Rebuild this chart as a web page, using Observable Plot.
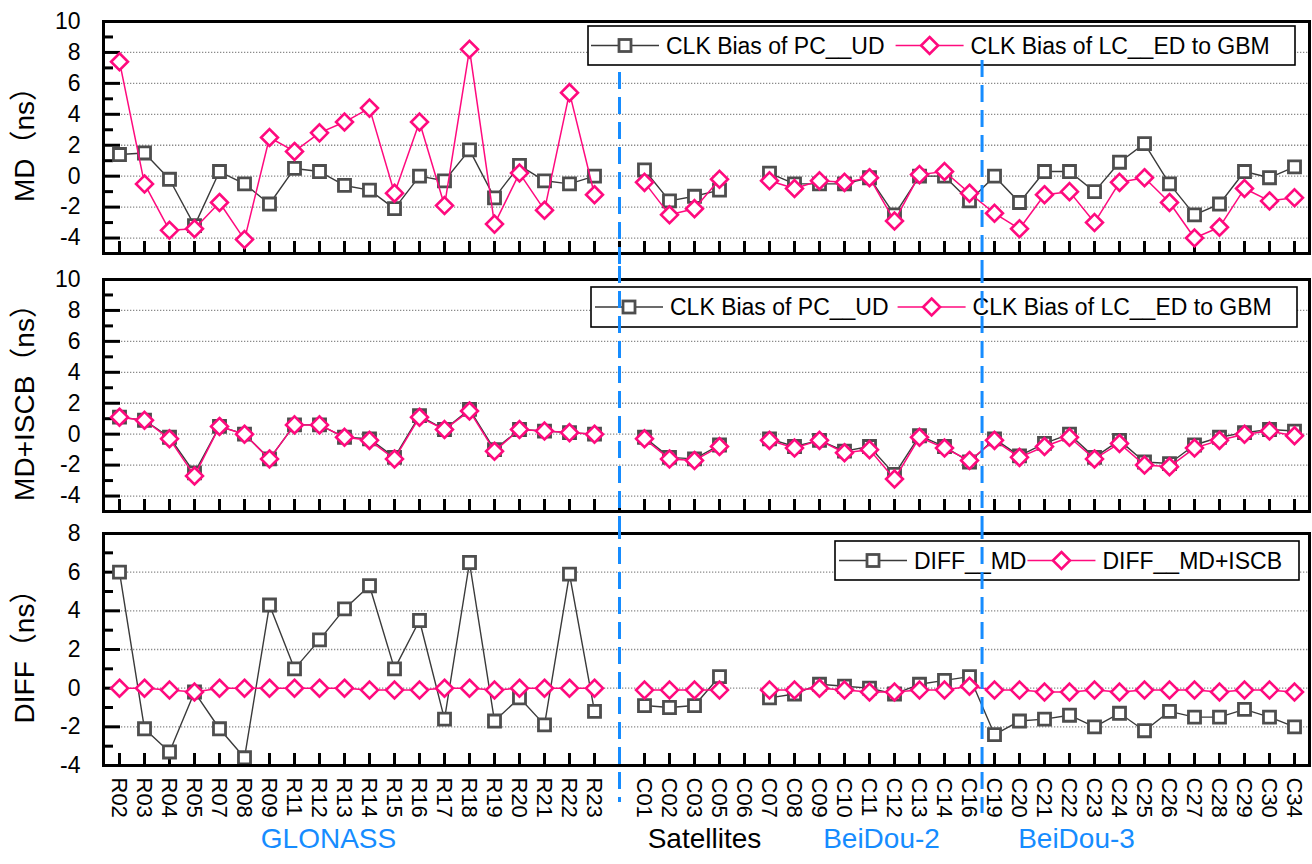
<!DOCTYPE html>
<html>
<head>
<meta charset="utf-8">
<script src="https://cdn.jsdelivr.net/npm/d3@7"></script>
<script src="https://cdn.jsdelivr.net/npm/@observablehq/plot@0.6"></script>
<style>
  html, body { margin: 0; padding: 0; background: #fff; }
  #chart { width: 1312px; }
  #chart svg { display: block; }
</style>
</head>
<body>
<div id="chart"></div>
<script>
// Satellites along the x axis; " " is the empty slot separating GLONASS from BeiDou.
const satellites = ["R02","R03","R04","R05","R07","R08","R09","R11","R12","R13","R14","R15","R16","R17","R18","R19","R20","R21","R22","R23",
  " ",
  "C01","C02","C03","C05","C06","C07","C08","C09","C10","C11","C12","C13","C14","C16",
  "C19","C20","C21","C22","C23","C24","C25","C26","C27","C28","C29","C30","C34"];

// MD (ns)
const mdPC = [1.4, 1.5, -0.2, -3.2, 0.3, -0.5, -1.8, 0.5, 0.3, -0.6, -0.9, -2.1, 0.0, -0.3, 1.7, -1.4, 0.7, -0.3, -0.5, 0.0,
  null,
  0.4, -1.6, -1.3, -0.9, null, 0.2, -0.5, -0.5, -0.5, -0.1, -2.5, 0.0, 0.0, -1.6,
  0.0, -1.7, 0.3, 0.3, -1.0, 0.9, 2.1, -0.5, -2.5, -1.8, 0.3, -0.1, 0.6];
const mdLC = [7.4, -0.5, -3.5, -3.4, -1.7, -4.1, 2.5, 1.6, 2.8, 3.5, 4.4, -1.1, 3.5, -1.9, 8.2, -3.1, 0.2, -2.2, 5.4, -1.2,
  null,
  -0.4, -2.5, -2.1, -0.2, null, -0.3, -0.8, -0.3, -0.4, -0.1, -2.9, 0.1, 0.3, -1.1,
  -2.4, -3.4, -1.2, -1.0, -3.0, -0.4, -0.1, -1.7, -4.0, -3.3, -0.8, -1.6, -1.4];

// MD+ISCB (ns)
const iscbPC = [1.1, 0.9, -0.2, -2.5, 0.5, 0.0, -1.6, 0.6, 0.6, -0.2, -0.3, -1.5, 1.2, 0.3, 1.6, -1.0, 0.3, 0.2, 0.1, 0.0,
  null,
  -0.2, -1.5, -1.6, -0.7, null, -0.3, -0.8, -0.4, -1.1, -0.8, -2.6, -0.1, -0.8, -1.8,
  -0.3, -1.4, -0.6, 0.0, -1.5, -0.4, -1.8, -1.9, -0.7, -0.2, 0.1, 0.3, 0.2];
const iscbLC = [1.1, 0.9, -0.3, -2.7, 0.5, 0.0, -1.6, 0.6, 0.6, -0.2, -0.4, -1.6, 1.1, 0.3, 1.5, -1.1, 0.3, 0.2, 0.1, 0.0,
  null,
  -0.3, -1.6, -1.7, -0.8, null, -0.4, -0.9, -0.4, -1.2, -1.0, -2.9, -0.2, -0.9, -1.7,
  -0.4, -1.5, -0.8, -0.2, -1.6, -0.6, -2.0, -2.1, -0.9, -0.4, 0.0, 0.2, -0.1];

// DIFF (ns)
const diffMD = [6.0, -2.1, -3.3, -0.2, -2.1, -3.6, 4.3, 1.0, 2.5, 4.1, 5.3, 1.0, 3.5, -1.6, 6.5, -1.7, -0.5, -1.9, 5.9, -1.2,
  null,
  -0.9, -1.0, -0.9, 0.6, null, -0.5, -0.3, 0.2, 0.1, 0.0, -0.3, 0.2, 0.4, 0.6,
  -2.4, -1.7, -1.6, -1.4, -2.0, -1.3, -2.2, -1.2, -1.5, -1.5, -1.1, -1.5, -2.0];
const diffISCB = [0.0, 0.0, -0.1, -0.2, 0.0, 0.0, 0.0, 0.0, 0.0, 0.0, -0.1, -0.1, -0.1, 0.0, 0.0, -0.1, 0.0, 0.0, 0.0, 0.0,
  null,
  -0.1, -0.1, -0.1, -0.1, null, -0.1, -0.1, 0.0, -0.1, -0.2, -0.2, -0.1, -0.1, 0.1,
  -0.1, -0.1, -0.2, -0.2, -0.1, -0.2, -0.1, -0.1, -0.1, -0.2, -0.1, -0.1, -0.2];

const legendMD = ["CLK Bias of PC__UD", "CLK Bias of LC__ED to GBM"];
const legendDiff = ["DIFF__MD", "DIFF__MD+ISCB"];

const W = 1312;
const ML = 103, MR = 3;
const X_RANGE = [116.7, 1297];
const STEP = (X_RANGE[1] - X_RANGE[0]) / (satellites.length - 1);
const FONT = '"Liberation Sans", Arial, "Noto Sans CJK SC", sans-serif';
const GRAY_LINE = "#3a3a3a", GRAY_MARK = "#4e4e4e", PINK = "#ff0a7e", BLUE = "#168cff";

const series = values => satellites.map((sat, i) => ({sat, v: values[i]}));
const range = (a, b, s) => d3.range(a, b + 1e-9, s);

function panel(cfg) {
  const {height, marginTop, marginBottom, domain, title, gray, pink, bottom, div1, div2} = cfg;
  const frameW = W - ML - MR;
  const frameH = height - marginTop - marginBottom;
  const majors = range(domain[0] % 2 === 0 ? domain[0] : domain[0] + 1, domain[1], 2);
  const minors = range(majors[0] - 1, domain[1], 2).filter(v => v > domain[0] && v < domain[1]);
  const grid = majors.filter(v => v > domain[0] && v < domain[1]);

  const marks = [
    Plot.ruleY(grid, {y: d => d, stroke: "#8a8a8a", strokeWidth: 1.3, strokeDasharray: "1.3,1.7"}),
    Plot.tickY(majors, {y: d => d, stroke: "#000", strokeWidth: 3, insetRight: frameW - 17}),
    Plot.tickY(minors, {y: d => d, stroke: "#000", strokeWidth: 3, insetRight: frameW - 10}),
    Plot.tickX(satellites, {x: d => d, stroke: "#000", strokeWidth: 3, insetTop: frameH - 12}),
    Plot.text(majors, {y: d => d, text: d => String(d), frameAnchor: "left", dx: -23, textAnchor: "end", fontSize: 23}),
    Plot.text([title], {text: d => d, frameAnchor: "left", dx: -78, rotate: -90, textAnchor: "middle", lineAnchor: "middle", fontSize: 28}),
    Plot.line(series(gray), {x: "sat", y: "v", stroke: GRAY_LINE, strokeWidth: 1.4}),
    Plot.dot(series(gray), {x: "sat", y: "v", symbol: "square", r: 6.8, stroke: GRAY_MARK, strokeWidth: 2.8, fill: "white"}),
    Plot.line(series(pink), {x: "sat", y: "v", stroke: PINK, strokeWidth: 1.5}),
    Plot.dot(series(pink), {x: "sat", y: "v", symbol: "diamond2", r: 7.6, stroke: PINK, strokeWidth: 2.6, fill: "white"}),
    Plot.frame({stroke: "#000", strokeWidth: 3})
  ];
  if (bottom) {
    marks.push(
      Plot.text(satellites, {x: d => d, text: d => d, frameAnchor: "bottom", rotate: 90, textAnchor: "start", lineAnchor: "middle", dy: 12, fontSize: 22}),
      Plot.text(["GLONASS"], {x: () => "R12", text: d => d, frameAnchor: "bottom", textAnchor: "middle", dy: 82, dx: 9, fill: BLUE, fontSize: 28}),
      Plot.text(["Satellites"], {x: () => "C03", text: d => d, frameAnchor: "bottom", textAnchor: "middle", dy: 82, dx: 10, fill: "#000", fontSize: 28}),
      Plot.text(["BeiDou-2"], {x: () => "C11", text: d => d, frameAnchor: "bottom", textAnchor: "middle", dy: 82, dx: 12, fill: BLUE, fontSize: 28}),
      Plot.text(["BeiDou-3"], {x: () => "C22", text: d => d, frameAnchor: "bottom", textAnchor: "middle", dy: 82, dx: 7, fill: BLUE, fontSize: 28})
    );
  }
  // Dashed separators: GLONASS | BeiDou-2 | BeiDou-3
  marks.push(
    Plot.ruleX([" "], {x: d => d, stroke: BLUE, strokeWidth: 3, strokeDasharray: "17,8", insetTop: div1[0], insetBottom: div1[1]}),
    Plot.ruleX(["C16"], {x: d => d, dx: STEP / 2, stroke: BLUE, strokeWidth: 3, strokeDasharray: "17,8", insetTop: div2[0], insetBottom: div2[1]})
  );

  return Plot.plot({
    width: W, height, marginTop, marginBottom, marginLeft: ML, marginRight: MR,
    x: {type: "point", domain: satellites, range: X_RANGE, padding: 0, axis: null},
    y: {domain, axis: null},
    style: {fontFamily: FONT, fontSize: "23px", background: "white", color: "#000", overflow: "visible"},
    marks
  });
}

function drawLegend(svg, {box, startX, gap, labels}) {
  const groups = svg.querySelectorAll(":scope > g");
  const before = groups[groups.length - 2];
  const g = d3.select(svg).insert("g", () => before)
    .attr("font-family", FONT).attr("font-size", 23).attr("text-anchor", "start");
  g.append("rect").attr("x", box.x).attr("y", box.y).attr("width", box.w).attr("height", box.h)
    .attr("fill", "white").attr("stroke", "#000").attr("stroke-width", 1.6);
  const cy = box.y + box.h / 2;
  let x0 = startX;
  labels.forEach((label, i) => {
    const color = i === 0 ? GRAY_LINE : PINK;
    g.append("line").attr("x1", x0).attr("x2", x0 + 68).attr("y1", cy).attr("y2", cy)
      .attr("stroke", color).attr("stroke-width", 1.5);
    const mx = x0 + 34;
    if (i === 0) {
      g.append("rect").attr("x", mx - 6).attr("y", cy - 6).attr("width", 12).attr("height", 12)
        .attr("fill", "white").attr("stroke", GRAY_MARK).attr("stroke-width", 2.8);
    } else {
      const r = 8.5;
      g.append("path").attr("d", `M${mx},${cy - r}L${mx + r},${cy}L${mx},${cy + r}L${mx - r},${cy}Z`)
        .attr("fill", "white").attr("stroke", PINK).attr("stroke-width", 2.6);
    }
    const t = g.append("text").attr("x", x0 + 75).attr("y", cy).attr("dy", "0.35em").attr("fill", "#000").text(label);
    x0 = x0 + 75 + t.node().getComputedTextLength() + gap;
  });
}

const chart = document.getElementById("chart");

const p1 = panel({height: 266, marginTop: 21, marginBottom: 13, domain: [-5, 10], title: "MD（ns）",
  gray: mdPC, pink: mdLC, div1: [51, -13], div2: [39, -13]});
chart.appendChild(p1);
drawLegend(p1, {box: {x: 588, y: 26, w: 707, h: 39}, startX: 591, gap: 11, labels: legendMD});

const p2 = panel({height: 256, marginTop: 13, marginBottom: 11, domain: [-5, 10], title: "MD+ISCB（ns）",
  gray: iscbPC, pink: iscbLC, div1: [-13, -11], div2: [-13, -11]});
chart.appendChild(p2);
drawLegend(p2, {box: {x: 591, y: 21, w: 706, h: 40}, startX: 595, gap: 9, labels: legendMD});

const p3 = panel({height: 342, marginTop: 11, marginBottom: 99, domain: [-4, 8], title: "DIFF（ns）",
  gray: diffMD, pink: diffISCB, bottom: true, div1: [-11, -37], div2: [-11, -48]});
chart.appendChild(p3);
drawLegend(p3, {box: {x: 835, y: 19, w: 464, h: 39}, startX: 839, gap: 1, labels: legendDiff});
</script>
</body>
</html>
